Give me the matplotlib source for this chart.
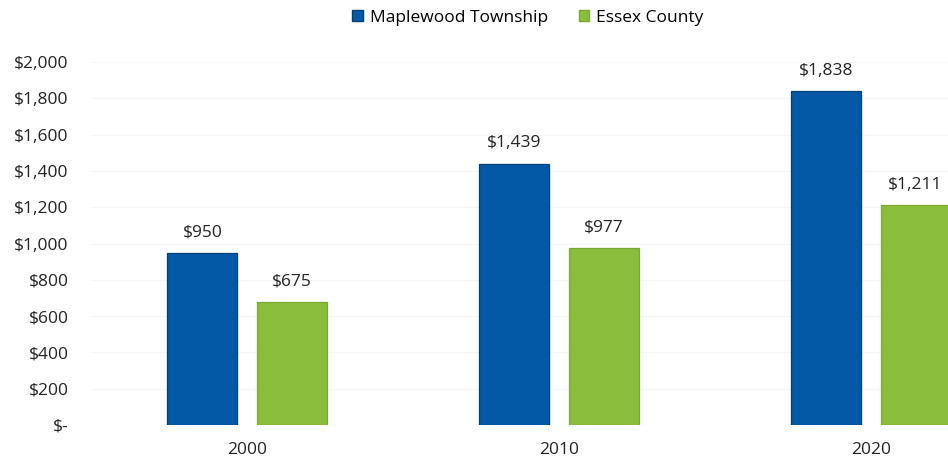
import numpy as np
import matplotlib.pyplot as plt
from matplotlib.ticker import FuncFormatter
from matplotlib.patches import Patch

# median gross rent, township vs county
years = ["2000", "2010", "2020"]
maplewood = [950, 1439, 1838]
essex = [675, 977, 1211]

series_names = ["Maplewood Township", "Essex County"]
BLUE = "#0459a6"
BLUE_EDGE = "#033f78"
GREEN = "#8bbd3c"
GREEN_EDGE = "#7aa832"

plt.rcParams["font.family"] = ["Open Sans", "DejaVu Sans"]
FS = 12.5


def money(v, pos=None):
    if v == 0:
        return "$-"
    return f"${v:,.0f}"


def main():
    fig = plt.figure(figsize=(9.48, 4.63), dpi=100)
    # axes runs past the right edge on purpose, last bar is cut off
    ax = fig.add_axes([91 / 948, 38 / 463, (1027 - 91) / 948, (425 - 62) / 463])

    x = np.arange(len(years))
    w = 0.224
    off = 0.143

    b1 = ax.bar(x - off, maplewood, w, color=BLUE, edgecolor=BLUE_EDGE, linewidth=0.9, zorder=3)
    b2 = ax.bar(x + off, essex, w, color=GREEN, edgecolor=GREEN_EDGE, linewidth=0.9, zorder=3)

    for bars, vals in ((b1, maplewood), (b2, essex)):
        for r, v in zip(bars, vals):
            ax.annotate(money(v), (r.get_x() + r.get_width() / 2, v),
                        xytext=(0, 9), textcoords="offset points",
                        ha="center", va="bottom", fontsize=FS, color="#222222")

    ax.set_xlim(-0.5, 2.5)
    ax.set_ylim(0, 2000)
    ax.set_yticks(np.arange(0, 2001, 200))
    ax.yaxis.set_major_formatter(FuncFormatter(money))
    ax.set_xticks(x)
    ax.set_xticklabels(years)

    ax.grid(axis="y", color="#f6f6f6", linewidth=0.8, zorder=0)
    for s in ax.spines.values():
        s.set_visible(False)
    ax.tick_params(length=0, labelsize=FS, colors="#222222")
    ax.tick_params(axis="y", pad=16)
    ax.tick_params(axis="x", pad=12)

    handles = [Patch(facecolor=BLUE, edgecolor=BLUE_EDGE), Patch(facecolor=GREEN, edgecolor=GREEN_EDGE)]
    fig.legend(handles, series_names, loc="center", bbox_to_anchor=(528 / 948, 1 - 18 / 463),
               ncol=2, frameon=False, fontsize=FS, handlelength=0.6, handleheight=0.6,
               handletextpad=0.4, columnspacing=1.8)

    fig.savefig("out.png", dpi=100)
    plt.close(fig)


if __name__ == "__main__":
    main()
